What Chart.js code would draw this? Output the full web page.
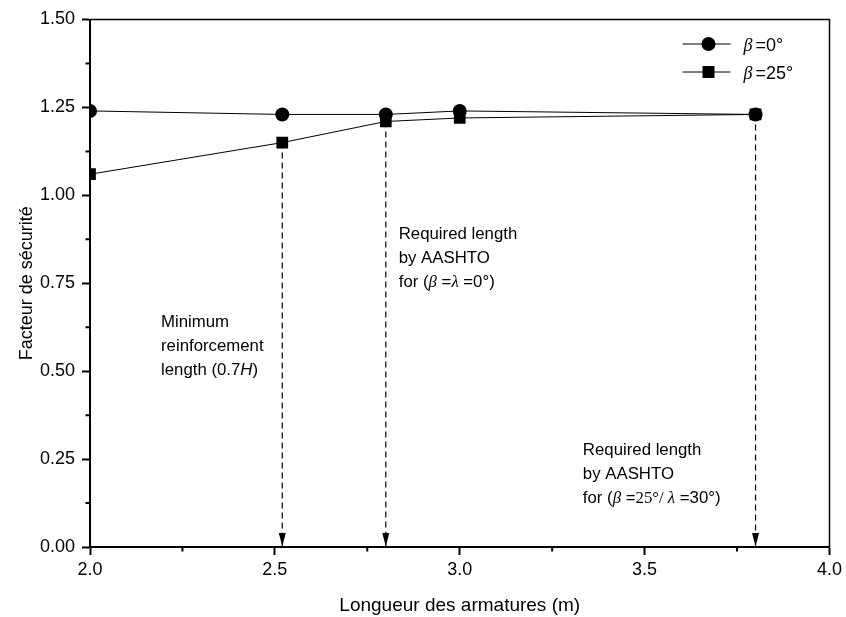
<!DOCTYPE html>
<html><head><meta charset="utf-8">
<script src="https://cdn.jsdelivr.net/npm/chart.js@4"></script>
<style>html,body{margin:0;padding:0;background:#fff}#wrap{width:846px;height:617px}</style>
</head><body><div id="wrap"><canvas id="c" width="846" height="617"></canvas></div>
<script>
// ---- data ----
const lengths = [2.0, 2.52, 2.8, 3.0, 3.8];
const fsBeta0 = [1.24, 1.23, 1.23, 1.24, 1.23];
const fsBeta25 = [1.06, 1.15, 1.21, 1.22, 1.23];
const arrowX = [2.52, 2.8, 3.8];
const arrowTop = [1.15, 1.21, 1.23];
const yTicks = [0, 0.25, 0.5, 0.75, 1.0, 1.25, 1.5];
const yMinor = [0.125, 0.375, 0.625, 0.875, 1.125, 1.375];
const xTicks = [2.0, 2.5, 3.0, 3.5, 4.0];
const xMinor = [2.25, 2.75, 3.25, 3.75];
const xTitle = 'Longueur des armatures (m)';
const yTitle = 'Facteur de sécurité';

const SANS = '"Liberation Sans", Arial, sans-serif';
const SERIF = '"Liberation Serif", "Times New Roman", serif';

function rich(ctx, x, y, segs) {
  let cx = x;
  ctx.textBaseline = 'alphabetic';
  ctx.textAlign = 'left';
  for (const [t, f] of segs) {
    ctx.font = f;
    ctx.fillText(t, cx, y);
    cx += ctx.measureText(t).width;
  }
}

const sans16 = '16.8px ' + SANS, ital16 = 'italic 16.8px ' + SERIF, serif16 = '16.8px ' + SERIF;
const sans18 = '18px ' + SANS, ital18 = 'italic 18px ' + SERIF;

const annotations = [
  {x: 2.192, y: 0.625, lines: [
    [['Minimum', sans16]],
    [['reinforcement', sans16]],
    [['length (0.7', sans16], ['H', 'italic 16.8px ' + SANS], [')', sans16]]
  ]},
  {x: 2.835, y: 0.877, lines: [
    [['Required length', sans16]],
    [['by AASHTO', sans16]],
    [['for (', sans16], ['β', ital16], [' =', sans16], ['λ', ital16], [' =0°)', sans16]]
  ]},
  {x: 3.333, y: 0.262, lines: [
    [['Required length', sans16]],
    [['by AASHTO', sans16]],
    [['for (', sans16], ['β', ital16], [' =', sans16], ['25°/ ', serif16], ['λ', ital16], [' =30°)', sans16]]
  ]}
];

const decor = {
  id: 'decor',
  afterDatasetsDraw(chart) {
    const {ctx, chartArea: a, scales: {x, y}} = chart;
    ctx.save();
    ctx.strokeStyle = '#000';
    ctx.fillStyle = '#000';
    // frame top/right
    ctx.lineWidth = 1.5;
    ctx.beginPath();
    ctx.moveTo(a.left, a.top); ctx.lineTo(a.right, a.top); ctx.lineTo(a.right, a.bottom);
    ctx.stroke();
    // minor ticks
    ctx.lineWidth = 2;
    ctx.beginPath();
    for (const v of yMinor) { const p = y.getPixelForValue(v); ctx.moveTo(a.left - 4.5, p); ctx.lineTo(a.left, p); }
    for (const v of xMinor) { const p = x.getPixelForValue(v); ctx.moveTo(p, a.bottom); ctx.lineTo(p, a.bottom + 4.5); }
    ctx.stroke();
    // arrowheads
    for (const v of arrowX) {
      const px = x.getPixelForValue(v), py = y.getPixelForValue(0);
      ctx.beginPath();
      ctx.moveTo(px, py - 0.5); ctx.lineTo(px - 3.5, py - 14); ctx.lineTo(px + 3.5, py - 14); ctx.closePath();
      ctx.fill();
    }
    // annotations
    for (const an of annotations) {
      const px = x.getPixelForValue(an.x), py = y.getPixelForValue(an.y);
      an.lines.forEach((ln, i) => rich(ctx, px, py + i * 24, ln));
    }
    // legend
    const items = [{sym: 'circle', txt: '=0°'}, {sym: 'rect', txt: '=25°'}];
    items.forEach((it, i) => {
      const ly = a.top + 24.5 + i * 28;
      ctx.lineWidth = 1;
      ctx.beginPath(); ctx.moveTo(a.right - 147, ly); ctx.lineTo(a.right - 99, ly); ctx.stroke();
      const mx = a.right - 121;
      ctx.beginPath();
      if (it.sym === 'circle') ctx.arc(mx, ly, 7, 0, Math.PI * 2);
      else ctx.rect(mx - 6, ly - 6, 12, 12);
      ctx.fill();
      rich(ctx, a.right - 86, ly + 6.5, [['β', ital18], [' ', '11px ' + SANS], [it.txt, sans18]]);
    });
    ctx.restore();
  }
};

const pts = arr => lengths.map((v, i) => ({x: v, y: arr[i]}));
const datasets = [
  {label: 'β =0°', data: pts(fsBeta0), showLine: true, borderColor: '#000', backgroundColor: '#000',
   borderWidth: 1, pointStyle: 'circle', pointRadius: 7, pointBorderWidth: 0, order: 1},
  {label: 'β =25°', data: pts(fsBeta25), showLine: true, borderColor: '#000', backgroundColor: '#000',
   borderWidth: 1, pointStyle: 'rect', pointRadius: 8.3, pointBorderWidth: 0, order: 1}
];
arrowX.forEach((v, i) => datasets.push({
  label: 'arrow' + i, data: [{x: v, y: arrowTop[i]}, {x: v, y: 0}], showLine: true,
  borderColor: '#000', borderWidth: 1.2, borderDash: [6, 4], pointRadius: 0, order: 3
}));

const tickFont = {family: SANS, size: 18};
new Chart(document.getElementById('c'), {
  type: 'scatter',
  data: {datasets},
  options: {
    responsive: false, animation: false, devicePixelRatio: 1,
    layout: {padding: {top: 19.5, right: 15, left: 0, bottom: 0}},
    plugins: {legend: {display: false}, tooltip: {enabled: false}},
    scales: {
      x: {
        type: 'linear', min: 2, max: 4,
        afterBuildTicks: s => { s.ticks = xTicks.map(v => ({value: v})); },
        afterFit: s => { s.height = 70; },
        ticks: {font: tickFont, color: '#000', padding: 4, maxRotation: 0, callback: v => Number(v).toFixed(1)},
        grid: {display: true, drawOnChartArea: false, drawTicks: true, tickLength: 8, tickWidth: 2, tickColor: '#000', color: '#000'},
        border: {display: true, color: '#000', width: 2},
        title: {display: true, text: xTitle, color: '#000', font: {family: SANS, size: 19}, padding: {top: 0, bottom: 0}}
      },
      y: {
        type: 'linear', min: 0, max: 1.5,
        afterBuildTicks: s => { s.ticks = yTicks.map(v => ({value: v})); },
        afterFit: s => { s.width = 90; },
        ticks: {font: tickFont, color: '#000', padding: 7, callback: v => Number(v).toFixed(2)},
        grid: {display: true, drawOnChartArea: false, drawTicks: true, tickLength: 8, tickWidth: 2, tickColor: '#000', color: '#000'},
        border: {display: true, color: '#000', width: 2},
        title: {display: true, text: yTitle, color: '#000', font: {family: SANS, size: 18}, padding: {top: 16, bottom: 0}}
      }
    }
  },
  plugins: [decor]
});
</script></body></html>
